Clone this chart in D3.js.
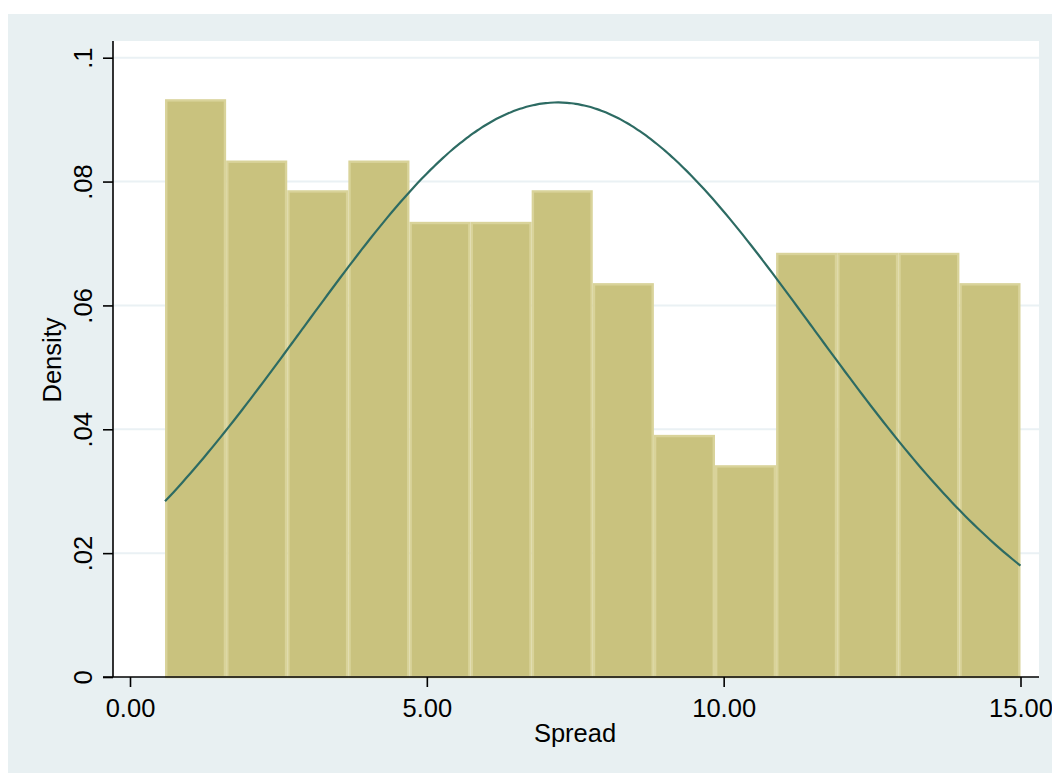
<!DOCTYPE html>
<html>
<head>
<meta charset="utf-8">
<script src="https://cdn.jsdelivr.net/npm/d3@7"></script>
<style>
  html, body { margin: 0; padding: 0; background: #ffffff; }
  svg { display: block; }
  text { font-family: "Liberation Sans", Arial, sans-serif; fill: #000; }
</style>
</head>
<body>
<svg id="chart" width="1052" height="773"></svg>
<script>
// Histogram of Spread (density scale) with fitted normal curve
const binStart = 0.59;
const binWidth = 1.0293;
const densities = [0.0933, 0.0834, 0.0786, 0.0834, 0.0735, 0.0735, 0.0786,
                   0.0636, 0.0391, 0.0342, 0.0685, 0.0685, 0.0685, 0.0636];
const normalMean = 7.21;
const normalSd = 4.30;
const xTicks = [0, 5, 10, 15];
const yTicks = [0, 0.02, 0.04, 0.06, 0.08, 0.1];
const yTickLabels = ["0", ".02", ".04", ".06", ".08", ".1"];

const bins = densities.map((d, i) => ({
  x0: binStart + i * binWidth,
  x1: binStart + (i + 1) * binWidth,
  density: d
}));

const W = 1052, H = 773;
const plot = { left: 113, right: 1039, top: 41, bottom: 677 };

const svg = d3.select("#chart");

// outer graph region
svg.append("rect").attr("x", 8).attr("y", 14)
  .attr("width", W - 8).attr("height", H - 14).attr("fill", "#e8f0f2");
// plot region
svg.append("rect").attr("x", plot.left).attr("y", plot.top)
  .attr("width", plot.right - plot.left).attr("height", plot.bottom - plot.top)
  .attr("fill", "#ffffff");

const x = d3.scaleLinear().domain([0, 15]).range([130, 1020.5]);
const y = d3.scaleLinear().domain([0, 0.1]).range([plot.bottom, 57.7]);

// gridlines
svg.append("g").selectAll("line").data(yTicks.filter(t => t > 0)).join("line")
  .attr("x1", plot.left).attr("x2", plot.right)
  .attr("y1", d => y(d)).attr("y2", d => y(d))
  .attr("stroke", "#eaf1f4").attr("stroke-width", 2);

// bars
const bw = 2.4;
svg.append("g").selectAll("rect").data(bins).join("rect")
  .attr("x", d => x(d.x0) + bw / 2)
  .attr("y", d => y(d.density) + bw / 2)
  .attr("width", d => x(d.x1) - x(d.x0) - bw)
  .attr("height", d => y(0) - y(d.density) - bw / 2)
  .attr("fill", "#c9c27e")
  .attr("stroke", "#d9d39a")
  .attr("stroke-width", bw);

// normal density curve
const curveX = d3.range(0, 201).map(i => binStart + (15 - binStart) * i / 200);
const pdf = v => Math.exp(-0.5 * ((v - normalMean) / normalSd) ** 2) / (normalSd * Math.sqrt(2 * Math.PI));
svg.append("path")
  .datum(curveX)
  .attr("d", d3.line().x(d => x(d)).y(d => y(pdf(d))).curve(d3.curveBasis))
  .attr("fill", "none")
  .attr("stroke", "#2d6b63")
  .attr("stroke-width", 2.2);

// y axis
const yAxis = svg.append("g").attr("transform", `translate(${plot.left},0)`)
  .call(d3.axisLeft(y).tickValues(yTicks).tickSize(10).tickPadding(0)
    .tickFormat((d, i) => yTickLabels[i]));
yAxis.select(".domain").attr("d", `M0,${plot.top}V${plot.bottom}`).attr("stroke", "#000").attr("stroke-width", 1.6);
yAxis.selectAll(".tick line").attr("stroke", "#000").attr("stroke-width", 1.6);
yAxis.selectAll(".tick text")
  .attr("font-size", 25.5)
  .attr("text-anchor", "middle")
  .attr("x", null).attr("dy", null)
  .attr("transform", "translate(-21,0) rotate(-90)");

// x axis
const xAxis = svg.append("g").attr("transform", `translate(0,${plot.bottom})`)
  .call(d3.axisBottom(x).tickValues(xTicks).tickSize(10).tickPadding(0)
    .tickFormat(d3.format(".2f")));
xAxis.select(".domain").attr("d", `M${plot.left - 10},0H${plot.right}`).attr("stroke", "#000").attr("stroke-width", 1.6);
xAxis.selectAll(".tick line").attr("stroke", "#000").attr("stroke-width", 1.6);
xAxis.selectAll(".tick text")
  .attr("font-size", 25.5)
  .attr("y", 39.5).attr("dy", null);

// axis titles
svg.append("text")
  .attr("transform", "translate(61,360) rotate(-90)")
  .attr("text-anchor", "middle")
  .attr("font-size", 25.5)
  .text("Density");
svg.append("text")
  .attr("x", 575).attr("y", 742)
  .attr("text-anchor", "middle")
  .attr("font-size", 25.5)
  .text("Spread");
</script>
</body>
</html>
